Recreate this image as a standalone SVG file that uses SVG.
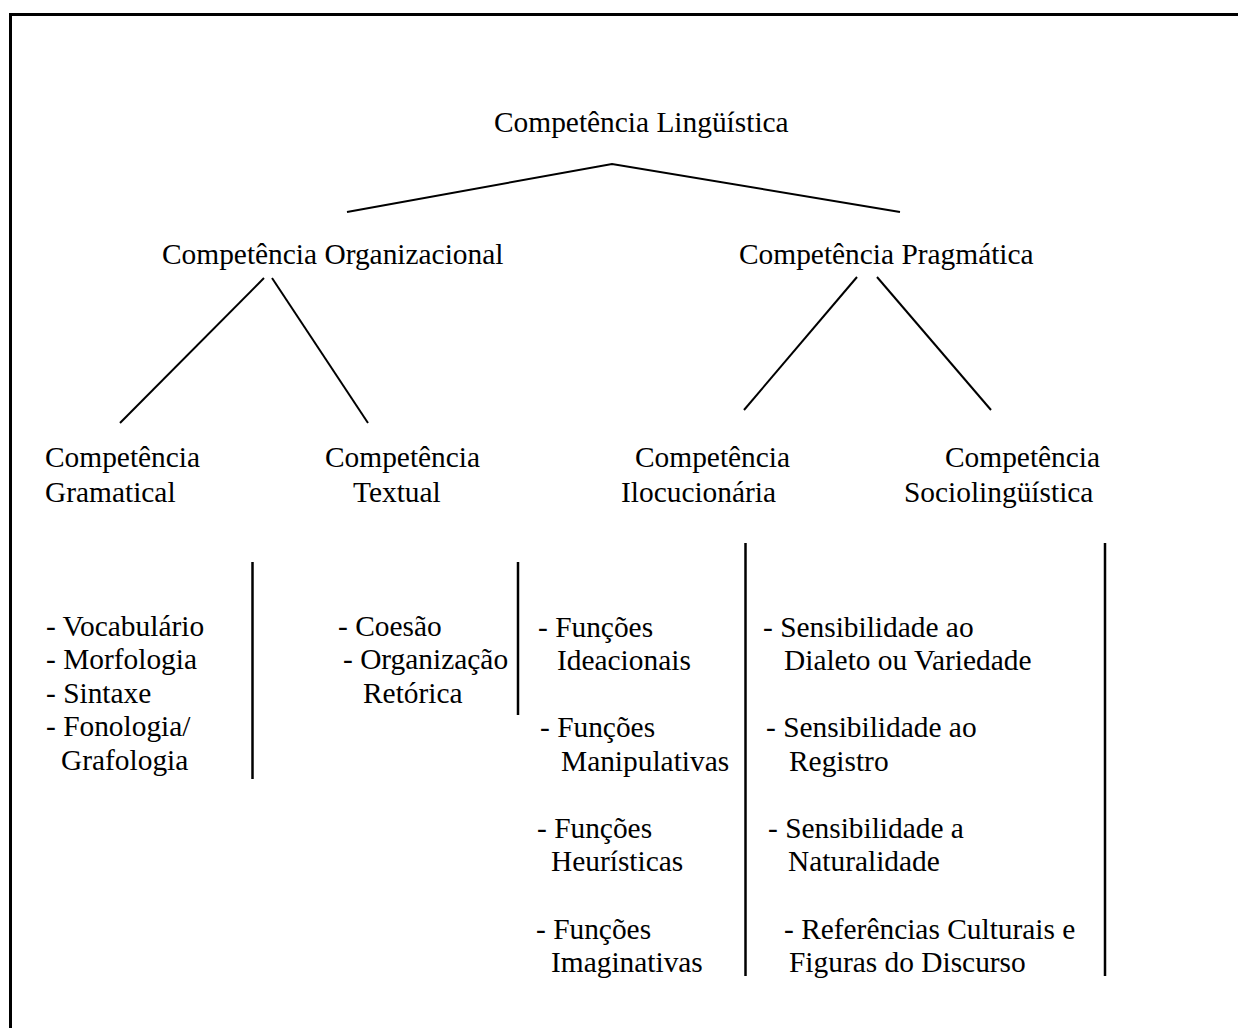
<svg xmlns="http://www.w3.org/2000/svg" width="1238" height="1028" viewBox="0 0 1238 1028">
  <style>
    text { font-family: "Liberation Serif", "Times New Roman", serif; font-size: 29.4px; fill: #000; }
    .edge { stroke: #000; stroke-width: 2; fill: none; stroke-linecap: butt; }
    .rule { stroke: #000; stroke-width: 2.5; fill: none; }
    .frame { stroke: #000; stroke-width: 3; fill: none; }
  </style>
  <rect width="1238" height="1028" fill="#fff"/>

  <!-- outer frame, open to the right and bottom -->
  <path class="frame" d="M10.5 1030 V14.5 H1240"/>

  <!-- tree connectors and column rules -->
  <g id="connectors">
    <polyline class="edge" points="347,212 612,164 900,212"/>
    <line class="edge" x1="264" y1="278" x2="120" y2="423"/>
    <line class="edge" x1="272" y1="278" x2="368" y2="423"/>
    <line class="edge" x1="857" y1="277" x2="744" y2="410"/>
    <line class="edge" x1="877" y1="277" x2="991" y2="410"/>
    <line class="rule" x1="252.5" y1="562" x2="252.5" y2="779"/>
    <line class="rule" x1="518" y1="562" x2="518" y2="715"/>
    <line class="rule" x1="745.5" y1="543" x2="745.5" y2="976"/>
    <line class="rule" x1="1105" y1="543" x2="1105" y2="976"/>
  </g>

  <g id="root">
    <text x="494" y="132">Competência Lingüística</text>
  </g>

  <g id="organizacional">
    <text x="162" y="264">Competência Organizacional</text>
  </g>

  <g id="pragmatica">
    <text x="739" y="264">Competência Pragmática</text>
  </g>

  <g id="gramatical">
    <text x="45" y="467">Competência</text>
    <text x="45" y="502">Gramatical</text>
    <text x="46" y="636">- Vocabulário</text>
    <text x="46" y="669">- Morfologia</text>
    <text x="46" y="703">- Sintaxe</text>
    <text x="46" y="736">- Fonologia/</text>
    <text x="61" y="770">Grafologia</text>
  </g>

  <g id="textual">
    <text x="325" y="467">Competência</text>
    <text x="353" y="502">Textual</text>
    <text x="338" y="636">- Coesão</text>
    <text x="343" y="669">- Organização</text>
    <text x="363" y="703">Retórica</text>
  </g>

  <g id="ilocucionaria">
    <text x="635" y="467">Competência</text>
    <text x="621" y="502">Ilocucionária</text>
    <text x="538" y="637">- Funções</text>
    <text x="557" y="670">Ideacionais</text>
    <text x="540" y="737">- Funções</text>
    <text x="561" y="771">Manipulativas</text>
    <text x="537" y="838">- Funções</text>
    <text x="551" y="871">Heurísticas</text>
    <text x="536" y="939">- Funções</text>
    <text x="551" y="972">Imaginativas</text>
  </g>

  <g id="sociolinguistica">
    <text x="945" y="467">Competência</text>
    <text x="904" y="502">Sociolingüística</text>
    <text x="763" y="637">- Sensibilidade ao</text>
    <text x="784" y="670">Dialeto ou Variedade</text>
    <text x="766" y="737">- Sensibilidade ao</text>
    <text x="789" y="771">Registro</text>
    <text x="768" y="838">- Sensibilidade a</text>
    <text x="788" y="871">Naturalidade</text>
    <text x="784" y="939">- Referências Culturais e</text>
    <text x="789" y="972">Figuras do Discurso</text>
  </g>
</svg>
